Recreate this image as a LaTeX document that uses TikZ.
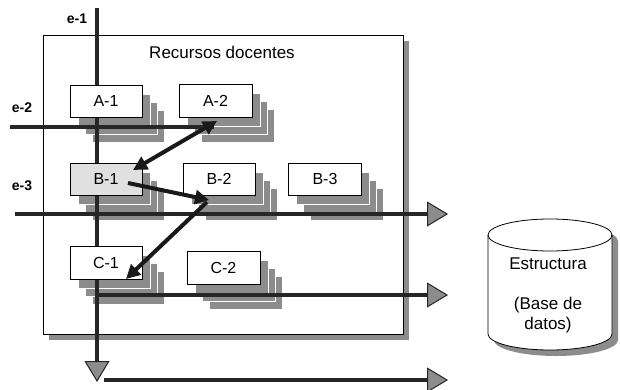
\documentclass[tikz,border=0pt]{standalone}
\usepackage{fontspec}
\setmainfont{Liberation Sans}
\usetikzlibrary{arrows.meta}
\colorlet{shd}{black!45}
\tikzset{
  res/.style={draw=black, line width=0.8pt, fill=white, minimum width=72pt, minimum height=32pt, inner sep=0pt, font=\fontsize{16}{18}\selectfont},
  axisline/.style={line width=4.5pt, draw=black!85},
  bigtip/.style={-{Triangle[length=21pt,width=25pt,line width=1pt,fill=shd]}},
  diag/.style={line width=4pt, draw=black!90},
  elabel/.style={font=\bfseries\fontsize{14}{16}\selectfont},
}
% stack of pages behind a box: centre x, centre y, width, height
\newcommand\pagestack[4]{%
  \foreach \d/\e in {22/25,15/17,8/9}{%
    \fill[shd, draw=white, line width=0.8pt] ({#1-#3/2+\d},{#2-#4/2+\e}) rectangle ({#1+#3/2+\d},{#2+#4/2+\e});
  }%
}
\begin{document}
\begin{tikzpicture}[x=1pt,y=-1pt]
\useasboundingbox (0,0) rectangle (620,390);
% big frame
\fill[shd] (49,41) rectangle (409,340);
\node[draw=black, line width=0.8pt, fill=white, minimum width=360pt, minimum height=299pt, inner sep=0pt] (frame) at (223,184.5) {};
\node[font=\fontsize{17}{20}\selectfont] (title) at (222,52) {Recursos docentes};
% page stacks behind the boxes
\pagestack{106}{101}{72}{32}
\pagestack{215.5}{100.5}{73}{33}
\pagestack{106}{179}{72}{32}
\pagestack{219}{179}{72}{32}
\pagestack{325}{179}{73}{32}
\pagestack{106}{262.5}{72}{33}
\pagestack{223.5}{267.5}{73}{33}
% axis labels
\node[elabel] (le1) at (77,19) {e-1};
\node[elabel] (le2) at (22,108) {e-2};
\node[elabel] (le3) at (22,186) {e-3};
% axis lines
\coordinate (e1s) at (97,8);   \coordinate (e1e) at (97,382);
\coordinate (e2s) at (10,127); \coordinate (e2e) at (214,127);
\coordinate (e3s) at (15,214); \coordinate (e3e) at (448,214);
\coordinate (e4s) at (97,295); \coordinate (e4e) at (448,295);
\coordinate (e5s) at (104,380); \coordinate (e5e) at (448,380);
\draw[axisline, bigtip] (e1s) -- (e1e);
\draw[axisline] (e2s) -- (e2e);
\draw[axisline, bigtip] (e3s) -- (e3e);
\draw[axisline, bigtip] (e4s) -- (e4e);
\draw[axisline, bigtip] (e5s) -- (e5e);
% boxes
\node[res] (A1) at (106,101) {A-1};
\node[res, minimum width=73pt, minimum height=33pt] (A2) at (215.5,100.5) {A-2};
\node[res, fill=black!12] (B1) at (106,179) {B-1};
\node[res] (B2) at (219,179) {B-2};
\node[res, minimum width=73pt] (B3) at (325,179) {B-3};
\node[res, minimum height=33pt] (C1) at (106,262.5) {C-1};
\node[res, minimum width=73pt, minimum height=33pt] (C2) at (223.5,267.5) {C-2};
% diagonal arrows
\coordinate (pa2) at (217,121);
\coordinate (pb1) at (133,170);
\coordinate (pb1r) at (128,183);
\coordinate (pb2) at (209,200);
\coordinate (pb2s) at (207,202);
\coordinate (pc1) at (126,279);
\draw[diag, {Triangle[length=14pt,width=14pt]}-{Triangle[length=14pt,width=14pt]}] (pa2) -- (pb1);
\draw[diag, -{Triangle[length=14pt,width=14pt]}] (pb1r) -- (pb2);
\draw[diag, -{Triangle[length=14pt,width=14pt]}] (pb2s) -- (pc1);
% database cylinder
\fill[shd] (494,241) -- (494,340) arc[start angle=180,end angle=360,x radius=62pt,y radius=16pt] -- (618,241) arc[start angle=0,end angle=180,x radius=62pt,y radius=16pt] -- cycle;
\draw[line width=0.8pt, fill=white] (488,235) -- (488,334) arc[start angle=180,end angle=360,x radius=62pt,y radius=16pt] -- (612,235) arc[start angle=0,end angle=180,x radius=62pt,y radius=16pt] -- cycle;
\draw[line width=0.8pt] (612,235) arc[start angle=0,end angle=-180,x radius=62pt,y radius=16pt];
\node[align=center, font=\fontsize{17}{20}\selectfont] (db) at (548,295) {Estructura\\[20pt](Base de\\datos)};
\end{tikzpicture}
\end{document}
